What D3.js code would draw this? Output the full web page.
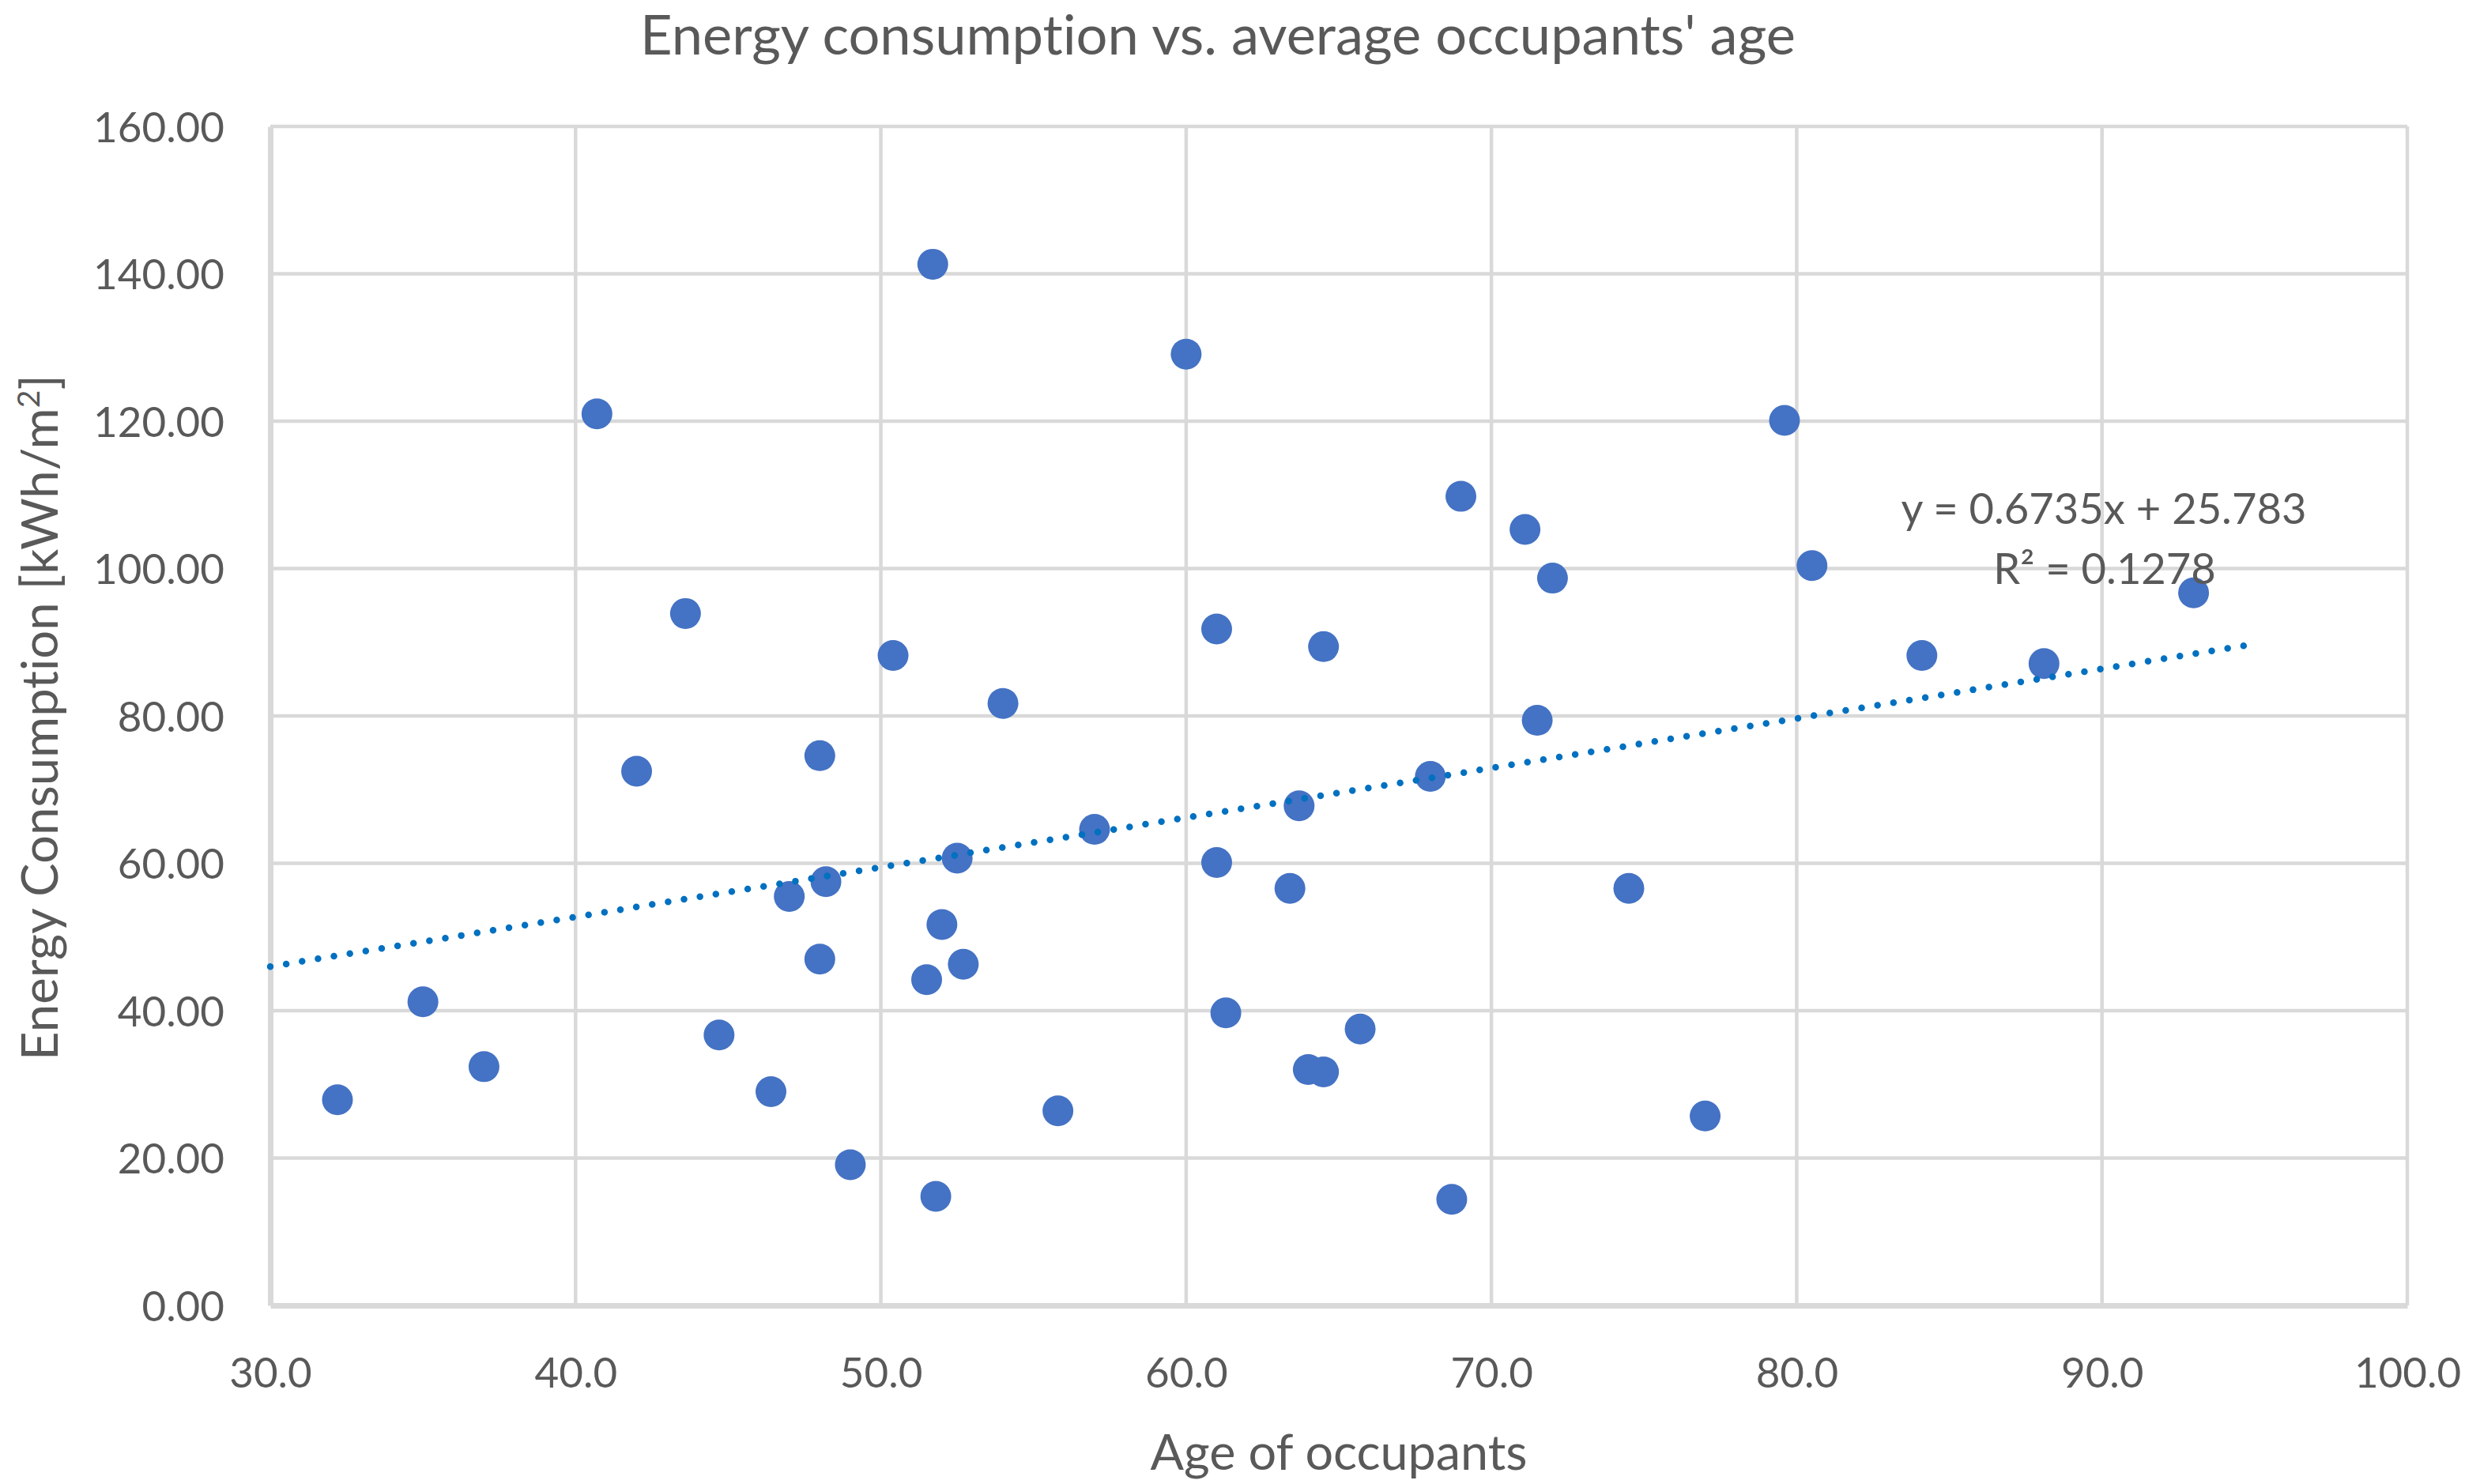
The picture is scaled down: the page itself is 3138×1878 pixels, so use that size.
<!DOCTYPE html>
<html>
<head>
<meta charset="utf-8">
<script src="https://cdn.jsdelivr.net/npm/d3@7"></script>
<style>
  html, body { margin: 0; padding: 0; background: #ffffff; }
  svg { display: block; }
  text { font-family: Lato, "Open Sans", sans-serif; fill: #595959; font-variant-ligatures: none; }
</style>
</head>
<body>
<svg id="chart" width="3138" height="1878"></svg>
<script>
// ---- data ----
const ages = [32.2, 35.0, 37.0, 40.7, 42.0, 43.6, 44.7, 46.4, 47.0, 48.0, 48.0, 48.2, 49.0, 50.4, 51.5,
  51.7, 51.8, 52.0, 52.5, 52.7, 54.0, 55.8, 57.0, 60.0, 61.0, 61.0, 61.3, 63.4, 63.7, 64.0,
  64.5, 64.5, 65.7, 68.0, 68.7, 69.0, 71.1, 71.5, 72.0, 74.5, 77.0, 79.6, 80.5, 84.1, 88.1, 93.0];
const energy = [27.9, 41.2, 32.4, 121.0, 72.5, 93.9, 36.7, 29.0, 55.5, 74.6, 47.0, 57.5, 19.1, 88.2, 44.2,
  141.3, 14.8, 51.7, 60.7, 46.3, 81.7, 26.4, 64.6, 129.1, 91.8, 60.1, 39.7, 56.6, 67.8, 32.0,
  31.7, 89.4, 37.5, 71.8, 14.4, 109.8, 105.3, 79.4, 98.7, 56.6, 25.7, 120.1, 100.4, 88.2, 87.1, 96.7];
const xTicks = [30, 40, 50, 60, 70, 80, 90, 100];
const yTicks = [0, 20, 40, 60, 80, 100, 120, 140, 160];
const trendSlope = 0.6735;
const trendIntercept = 25.783;
const trendRange = [30, 95];
const titleText = "Energy consumption vs. average occupants' age";
const xTitle = "Age of occupants";
const equationLines = ["y = 0.6735x + 25.783", "R\u00B2 = 0.1278"];

// ---- layout ----
const svg = d3.select("#chart");
const L = 342, R = 3046, T = 160, B = 1652;
const x = d3.scaleLinear().domain([30, 100]).range([L, R]);
const y = d3.scaleLinear().domain([0, 160]).range([B, T]);
const grid = "#D9D9D9";

function fitSize(sel, target, base) {
  sel.style("font-size", base + "px");
  const w = sel.node().getComputedTextLength();
  const s = base * target / w;
  sel.style("font-size", s + "px");
  return s;
}

// gridlines
svg.append("g").selectAll("line").data(yTicks.filter(d => d > 0)).join("line")
  .attr("x1", L).attr("x2", R).attr("y1", d => y(d)).attr("y2", d => y(d))
  .attr("stroke", grid).attr("stroke-width", 4.5);
svg.append("g").selectAll("line").data(xTicks.filter(d => d > 30)).join("line")
  .attr("y1", T).attr("y2", B).attr("x1", d => x(d)).attr("x2", d => x(d))
  .attr("stroke", grid).attr("stroke-width", 4.5);

// axes (thicker lines)
const xAxis = d3.axisBottom(x).tickValues(xTicks).tickSize(0).tickFormat(d3.format(".1f"));
const yAxis = d3.axisLeft(y).tickValues(yTicks).tickSize(0).tickFormat(d3.format(".2f"));

const gx = svg.append("g").attr("transform", `translate(0,${B})`).call(xAxis);
gx.select(".domain").attr("stroke", grid).attr("stroke-width", 7);
const gy = svg.append("g").attr("transform", `translate(${L},0)`).call(yAxis);
gy.select(".domain").attr("stroke", grid).attr("stroke-width", 7);

// tick label font size fitted to the reference width of "160.00"
const probe = svg.append("text").text("160.00");
const tickSize = fitSize(probe, 166, 50);
probe.remove();

gx.selectAll(".tick text")
  .attr("y", 0).attr("dy", 0)
  .attr("transform", "translate(0,104)")
  .style("font-size", tickSize + "px")
  .style("font-family", "Lato, sans-serif")
  .attr("fill", "#595959");
gy.selectAll(".tick text")
  .attr("x", -58).attr("dy", "0.36em")
  .style("font-size", tickSize + "px")
  .style("font-family", "Lato, sans-serif")
  .attr("fill", "#595959");

// points
svg.append("g").selectAll("circle").data(ages.map((a, i) => [a, energy[i]])).join("circle")
  .attr("cx", d => x(d[0])).attr("cy", d => y(d[1])).attr("r", 19.5)
  .attr("fill", "#4472C4");

// trendline
const line = d3.line().x(d => x(d)).y(d => y(trendSlope * d + trendIntercept));
svg.append("path").datum(trendRange).attr("d", line)
  .attr("fill", "none").attr("stroke", "#0070C0").attr("stroke-width", 8.5)
  .attr("stroke-linecap", "round").attr("stroke-dasharray", "0 20.4");

// equation
const eq1 = svg.append("text").attr("x", 2662).attr("y", 663).attr("text-anchor", "middle").text(equationLines[0]);
const eqSize = fitSize(eq1, 513, 50);
svg.append("text").attr("x", 2663).attr("y", 739).attr("text-anchor", "middle")
  .style("font-size", eqSize + "px").text(equationLines[1]);

// title
const t = svg.append("text").attr("x", 1541).attr("y", 69).attr("text-anchor", "middle").text(titleText);
fitSize(t, 1462, 60);

// x axis title
const xt = svg.append("text").attr("x", 1694).attr("y", 1860).attr("text-anchor", "middle").text(xTitle);
fitSize(xt, 477, 60);

// y axis title
const yt = svg.append("text").attr("transform", "translate(73,908) rotate(-90)").attr("text-anchor", "middle");
yt.append("tspan").text("Energy Consumption [kWh/m");
yt.append("tspan").attr("baseline-shift", "super").style("font-size", "0.62em").text("2");
yt.append("tspan").text("]");
fitSize(yt, 868, 60);
</script>
</body>
</html>
